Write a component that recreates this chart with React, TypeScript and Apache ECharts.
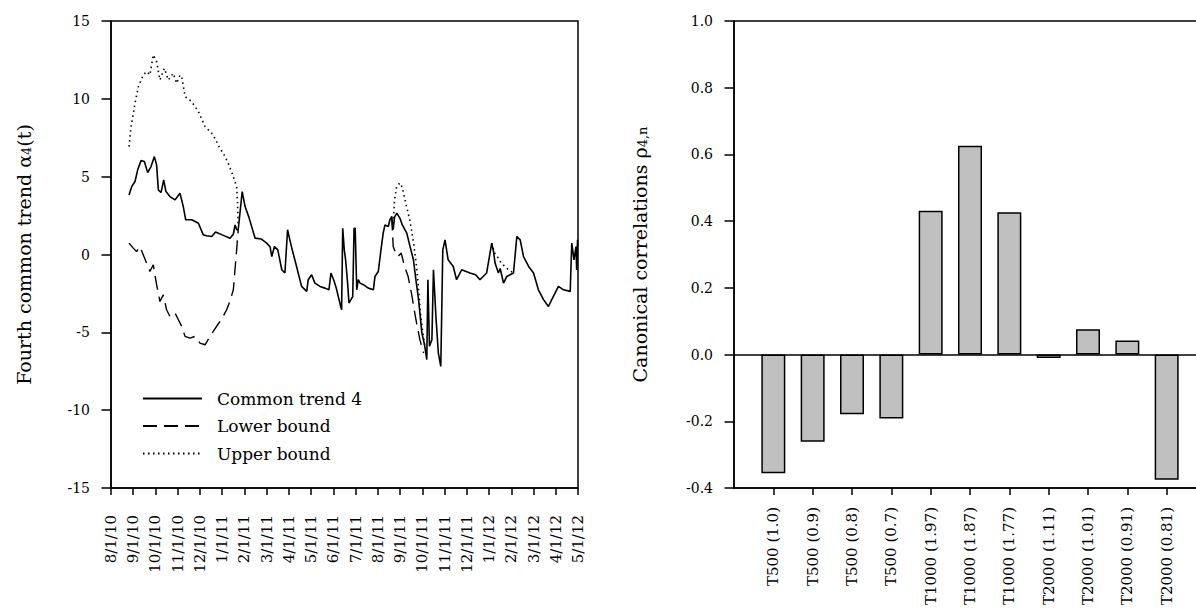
import React, { useEffect, useRef } from 'react';
import * as echarts from 'echarts';

// Month tick labels (x axis of the left chart, one per month start)
const monthLabels = [
  '8/1/10', '9/1/10', '10/1/10', '11/1/10', '12/1/10',
  '1/1/11', '2/1/11', '3/1/11', '4/1/11', '5/1/11', '6/1/11', '7/1/11',
  '8/1/11', '9/1/11', '10/1/11', '11/1/11', '12/1/11',
  '1/1/12', '2/1/12', '3/1/12', '4/1/12', '5/1/12',
];

// [months since 8/1/10, value]
const trendData: (number | null)[][] = [
  [0.81, 3.83], [0.93, 4.36], [1.08, 4.69], [1.2, 5.44], [1.35, 6.03], [1.5, 5.97], [1.65, 5.26],
  [1.8, 5.65], [1.95, 6.29], [2.05, 5.76], [2.13, 4.15], [2.25, 3.98], [2.37, 4.79], [2.47, 4.04],
  [2.65, 3.72], [2.88, 3.51], [3.1, 3.94], [3.25, 3.08], [3.36, 2.23], [3.63, 2.23], [3.93, 2.01],
  [4.15, 1.26], [4.3, 1.2], [4.53, 1.16], [4.7, 1.45], [5.0, 1.26], [5.35, 1.05], [5.5, 1.3],
  [5.58, 1.9], [5.65, 1.6], [5.72, 1.59], [5.9, 4.04], [6.03, 3.08], [6.2, 2.4], [6.48, 1.05],
  [6.75, 1.0], [7.0, 0.73], [7.15, 0.5], [7.23, -0.13], [7.35, 0.51], [7.5, 0.3], [7.68, -0.98],
  [7.82, -1.19], [7.94, 1.59], [8.0, 1.2], [8.15, 0.3], [8.35, -0.8], [8.57, -2.05], [8.8, -2.37],
  [8.87, -1.62], [9.02, -1.3], [9.17, -1.84], [9.4, -2.05], [9.62, -2.16], [9.8, -2.27], [9.89, -1.19],
  [10.04, -1.73], [10.15, -2.27], [10.22, -2.7], [10.33, -3.34], [10.37, -3.55], [10.42, 1.69],
  [10.49, 0.3], [10.55, -0.34], [10.64, -1.84], [10.7, -3.12], [10.79, -2.9], [10.87, -2.7],
  [10.93, 1.69], [10.98, 1.69], [11.05, -2.27], [11.12, -1.62], [11.2, -1.84], [11.35, -1.94],
  [11.57, -2.16], [11.8, -2.27], [11.87, -1.41], [12.02, -1.09], [12.14, 0.3], [12.24, 1.37],
  [12.32, 1.9], [12.47, 1.8], [12.54, 2.23], [12.62, 2.44], [12.69, 1.59], [12.75, 2.4], [12.85, 2.66],
  [13.0, 2.3], [13.1, 1.9], [13.3, 1.37], [13.45, 0.5], [13.6, -0.34], [13.7, -1.5], [13.83, -2.9],
  [13.98, -5.05], [14.1, -5.8], [14.2, -6.76], [14.25, -1.62], [14.32, -5.9], [14.43, -5.47],
  [14.5, -0.98], [14.62, -4.19], [14.72, -6.33], [14.83, -7.19], [14.92, 0.3], [15.02, 0.94],
  [15.16, -0.34], [15.39, -0.77], [15.54, -1.62], [15.77, -0.98], [16.14, -1.19], [16.4, -1.3],
  [16.59, -1.62], [16.89, -1.19], [17.12, 0.73], [17.2, 0.2], [17.27, -0.55], [17.42, -1.19],
  [17.5, -0.9], [17.65, -1.84], [17.8, -1.41], [18.1, -1.19], [18.25, 1.16], [18.4, 0.94],
  [18.55, -0.13], [18.78, -0.77], [19.0, -1.19], [19.22, -2.27], [19.45, -2.9], [19.67, -3.34],
  [19.82, -2.9], [20.12, -2.05], [20.35, -2.27], [20.65, -2.37], [20.72, 0.73], [20.82, -0.34],
  [20.91, 0.51], [20.94, -1.0], [20.98, 0.94],
];

const lowerData: (number | null)[][] = [
  [0.81, 0.73], [1.0, 0.41], [1.15, 0.19], [1.3, 0.51], [1.45, -0.02], [1.6, -0.55], [1.75, -1.09],
  [1.9, -0.66], [2.05, -1.94], [2.13, -2.48], [2.2, -3.02], [2.35, -2.59], [2.5, -3.55], [2.65, -3.98],
  [2.88, -3.76], [3.03, -4.19], [3.18, -4.62], [3.33, -5.26], [3.55, -5.37], [3.78, -5.26], [4.0, -5.69],
  [4.23, -5.8], [4.45, -5.26], [4.65, -4.83], [4.85, -4.4], [5.0, -4.08], [5.2, -3.55], [5.35, -3.0],
  [5.5, -2.27], [5.65, 0.3], [5.72, 1.59],
  [9.0, null],
  [12.62, 2.44], [12.69, 0.51], [12.8, 0.09], [12.9, -0.13], [13.05, 0.09], [13.2, -0.77], [13.36, -1.41],
  [13.51, -2.48], [13.66, -3.76], [13.77, -4.62], [13.89, -5.47], [13.97, -5.9], [14.06, -6.33],
];

const upperData: (number | null)[][] = [
  [0.81, 6.93], [0.9, 8.2], [1.08, 9.72], [1.23, 10.78], [1.45, 11.53], [1.6, 11.75], [1.75, 11.53],
  [1.9, 12.82], [2.05, 12.39], [2.2, 11.21], [2.4, 11.96], [2.58, 11.21], [2.8, 11.64], [2.95, 11.0],
  [3.1, 11.53], [3.2, 11.3], [3.33, 10.14], [3.63, 9.82], [3.93, 9.18], [4.23, 8.22], [4.53, 7.79],
  [4.7, 7.4], [4.9, 6.8], [5.05, 6.5], [5.27, 5.87], [5.5, 5.01], [5.65, 4.36], [5.69, 3.3], [5.72, 1.8],
  [9.0, null],
  [12.69, 2.0], [12.75, 3.5], [12.85, 4.4], [13.0, 4.6], [13.1, 4.3], [13.22, 3.5], [13.44, 2.2],
  [13.6, 0.8], [13.72, -0.5], [13.82, -2.0], [13.9, -3.5], [14.0, -4.8], [14.1, -5.8],
  [16.0, null],
  [17.12, 0.73], [17.25, 0.1], [17.4, -0.2], [17.55, -0.55], [17.72, -0.77], [17.87, -0.98], [18.1, -1.19],
];

// Right chart
const barCategories = [
  'T500 (1.0)', 'T500 (0.9)', 'T500 (0.8)', 'T500 (0.7)',
  'T1000 (1.97)', 'T1000 (1.87)', 'T1000 (1.77)',
  'T2000 (1.11)', 'T2000 (1.01)', 'T2000 (0.91)', 'T2000 (0.81)',
];
const barValues = [-0.356, -0.261, -0.179, -0.192, 0.431, 0.626, 0.427, -0.01, 0.076, 0.042, -0.375];

const FONT = 'DejaVu Serif, serif';
const BLACK = '#000';

export default function App() {
  const ref = useRef<HTMLDivElement>(null);

  useEffect(() => {
    const chart = echarts.init(ref.current as HTMLDivElement, null, { renderer: 'svg' });
    const axisLine = { show: true, onZero: false, lineStyle: { color: BLACK, width: 1.5 } };
    const paddedCats = ['', ...barCategories, ''];
    const paddedBars = [null, ...barValues, null];

    chart.setOption({
      animation: false,
      backgroundColor: '#fff',
      grid: [
        { left: 111, top: 21, width: 467, height: 467, show: true, borderColor: BLACK, borderWidth: 1.5, outerBoundsMode: 'none' },
        { left: 734, top: 21, width: 472, height: 467, show: true, borderColor: BLACK, borderWidth: 1.5, outerBoundsMode: 'none' },
      ],
      legend: {
        show: true,
        orient: 'vertical',
        left: 142,
        top: 390,
        padding: 0,
        itemWidth: 59,
        itemHeight: 14,
        itemGap: 10.5,
        data: ['Common trend 4', 'Lower bound', 'Upper bound'],
        itemStyle: { opacity: 0 },
        textStyle: { fontFamily: FONT, fontSize: 17, color: BLACK, padding: [0, 0, 0, 10] },
      },
      xAxis: [
        {
          gridIndex: 0, type: 'value', min: 0, max: 21, interval: 1,
          axisLine,
          axisTick: { show: true, length: 7, lineStyle: { color: BLACK, width: 1.5 } },
          axisLabel: {
            rotate: 90, margin: 27, fontSize: 15, fontFamily: FONT, color: BLACK,
            formatter: (v: number) => monthLabels[Math.round(v)] ?? '',
          },
          splitLine: { show: false },
        },
        {
          gridIndex: 1, type: 'category', data: paddedCats, boundaryGap: false,
          axisLine,
          axisTick: {
            show: true, length: 7, lineStyle: { color: BLACK, width: 1.5 },
            interval: (_i: number, v: string) => v !== '',
          },
          axisLabel: { interval: 0, rotate: 90, margin: 19, fontSize: 15, fontFamily: FONT, color: BLACK },
          splitLine: { show: false },
        },
      ],
      yAxis: [
        {
          gridIndex: 0, type: 'value', min: -15, max: 15, interval: 5,
          axisLine,
          axisTick: { show: true, length: 9.5, lineStyle: { color: BLACK, width: 1.5 } },
          axisLabel: { margin: 21, fontSize: 14, fontFamily: FONT, color: BLACK },
          splitLine: { show: false },
          name: '{n|Fourth common trend α}{s|4}{n|(t)}',
          nameLocation: 'middle',
          nameGap: 78,
          nameTextStyle: {
            fontFamily: FONT, fontSize: 19, color: BLACK,
            rich: {
              n: { fontFamily: FONT, fontSize: 19, color: BLACK },
              s: { fontFamily: FONT, fontSize: 13, color: BLACK, verticalAlign: 'bottom' },
            },
          },
        },
        {
          gridIndex: 1, type: 'value', min: -0.4, max: 1.0, interval: 0.2,
          axisLine,
          axisTick: { show: true, length: 9.5, lineStyle: { color: BLACK, width: 1.5 } },
          axisLabel: {
            margin: 21, fontSize: 14, fontFamily: FONT, color: BLACK,
            formatter: (v: number) => (Math.abs(v) < 1e-9 ? '0.0' : v.toFixed(1)),
          },
          splitLine: { show: false },
          name: '{n|Canonical correlations ρ}{s|4,n}',
          nameLocation: 'middle',
          nameGap: 85,
          nameTextStyle: {
            fontFamily: FONT, fontSize: 19, color: BLACK,
            rich: {
              n: { fontFamily: FONT, fontSize: 19, color: BLACK },
              s: { fontFamily: FONT, fontSize: 13, color: BLACK, verticalAlign: 'bottom' },
            },
          },
        },
      ],
      series: [
        {
          name: 'Lower bound', type: 'line', xAxisIndex: 0, yAxisIndex: 0, data: lowerData,
          symbol: 'none', showSymbol: false, connectNulls: false,
          lineStyle: { color: BLACK, width: 1.4, type: [14, 7] }, itemStyle: { color: BLACK }, z: 2,
        },
        {
          name: 'Upper bound', type: 'line', xAxisIndex: 0, yAxisIndex: 0, data: upperData,
          symbol: 'none', showSymbol: false, connectNulls: false,
          lineStyle: { color: BLACK, width: 1.6, type: [1.5, 3.5] }, itemStyle: { color: BLACK }, z: 2,
        },
        {
          name: 'Common trend 4', type: 'line', xAxisIndex: 0, yAxisIndex: 0, data: trendData,
          symbol: 'none', showSymbol: false,
          lineStyle: { color: BLACK, width: 1.6, type: 'solid' }, itemStyle: { color: BLACK }, z: 3,
        },
        {
          name: 'Canonical correlations', type: 'bar', xAxisIndex: 1, yAxisIndex: 1, data: paddedBars,
          barWidth: 24,
          itemStyle: { color: '#c0c0c0', borderColor: BLACK, borderWidth: 1.5 },
          markLine: {
            silent: true, symbol: 'none', label: { show: false },
            lineStyle: { color: BLACK, width: 1.5, type: 'solid' },
            data: [{ yAxis: 0 }],
          },
        },
      ],
    });

    return () => chart.dispose();
  }, []);

  return <div ref={ref} style={{ position: 'absolute', left: 0, top: 0, width: 1196, height: 609 }} />;
}
